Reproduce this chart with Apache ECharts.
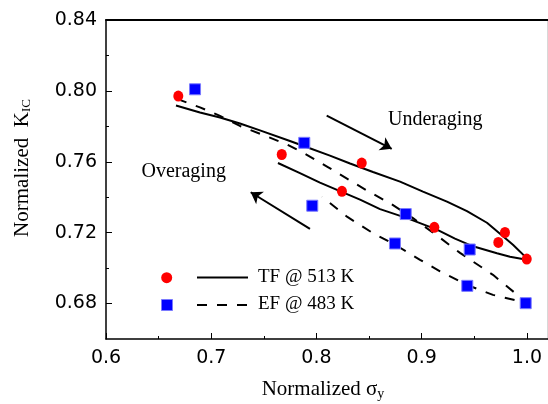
<!DOCTYPE html>
<html><head><meta charset="utf-8">
<script src="https://cdn.jsdelivr.net/npm/echarts@6/dist/echarts.min.js"></script>
<style>html,body{margin:0;padding:0;background:#fff}#c{width:548px;height:404px}</style>
</head><body><div id="c"></div>
<script>
// ---- axis ticks ----
const xTicks = [0.6, 0.7, 0.8, 0.9, 1.0];
const xMinorTicks = [0.65, 0.75, 0.85, 0.95];
const yTicks = [0.68, 0.72, 0.76, 0.80, 0.84];
const yMinorTicks = [0.70, 0.74, 0.78, 0.82];

// ---- measured points ----
const tfSigma = [0.6687, 0.7670, 0.8430, 0.8242, 0.9120, 0.9791, 0.9728, 0.9998];
const tfKic   = [0.7971, 0.7641, 0.7593, 0.7433, 0.7230, 0.7201, 0.7145, 0.7051];
const efSigma = [0.6846, 0.7884, 0.7960, 0.8848, 0.8746, 0.9456, 0.9433, 0.9988];
const efKic   = [0.8009, 0.7707, 0.7352, 0.7305, 0.7139, 0.7105, 0.6900, 0.6802];

// ---- TF @ 513 K loop (solid) ----
const tfCurveX = [0.6665, 0.6893, 0.7083, 0.7273, 0.7463, 0.7748, 0.7891, 0.8128, 0.8319, 0.8537, 0.8794, 0.9012, 0.9240, 0.9430, 0.9620, 0.9744, 0.9867, 1.0000,
                  0.9972, 0.9839, 0.9715, 0.9487, 0.9316, 0.9145, 0.8860, 0.8604, 0.8414, 0.8223, 0.8033, 0.7843, 0.7634];
const tfCurveY = [0.7918, 0.7878, 0.7850, 0.7816, 0.7777, 0.7717, 0.7686, 0.7635, 0.7590, 0.7542, 0.7488, 0.7432, 0.7375, 0.7321, 0.7256, 0.7194, 0.7132, 0.7055,
                  0.7050, 0.7064, 0.7084, 0.7123, 0.7166, 0.7217, 0.7282, 0.7333, 0.7386, 0.7434, 0.7482, 0.7536, 0.7593];

// ---- EF @ 483 K loop (dashed) ----
const efCurveX = [0.6675, 0.6893, 0.7083, 0.7273, 0.7530, 0.7720, 0.7872, 0.8100, 0.8290, 0.8490, 0.8699, 0.8917, 0.9174, 0.9364, 0.9677, 1.0000,
                  0.9677, 0.9430, 0.9174, 0.8984, 0.8746, 0.8537, 0.8290, 0.8052];
const efCurveY = [0.7955, 0.7907, 0.7859, 0.7802, 0.7743, 0.7697, 0.7652, 0.7573, 0.7505, 0.7434, 0.7366, 0.7282, 0.7171, 0.7086, 0.6962, 0.6804,
                  0.6849, 0.6905, 0.6982, 0.7047, 0.7132, 0.7197, 0.7290, 0.7403];

// ---- annotation arrows (data coords: from -> to) ----
const underArrow = [[0.8097, 0.7861], [0.8715, 0.7673]];
const overArrow  = [[0.7938, 0.7221], [0.7375, 0.7428]];

const zip = (a, b) => a.map((v, i) => [v, b[i]]);
const serif = 'Liberation Serif';

const chart = echarts.init(document.getElementById('c'), null, {renderer: 'canvas'});
const noSplit = {show: false};
const option = {
  backgroundColor: '#fff',
  animation: false,
  grid: {left: 106, right: 0, top: 20, bottom: 65, containLabel: false},
  xAxis: [
    {type: 'value', min: 0.6, max: 1.02, position: 'bottom',
     axisLine: {onZero: false, lineStyle: {color: '#000', width: 1.5}},
     axisTick: {inside: true, length: 6, customValues: xTicks, lineStyle: {color: '#000', width: 1}},
     axisLabel: {customValues: xTicks, formatter: v => v.toFixed(1), fontFamily: 'DejaVu Sans', fontSize: 19, color: '#000', margin: 10},
     splitLine: noSplit},
    {type: 'value', min: 0.6, max: 1.02, position: 'bottom',
     axisLine: {show: false},
     axisTick: {inside: true, length: 3, customValues: xMinorTicks, lineStyle: {color: '#000', width: 1}},
     axisLabel: {show: false}, splitLine: noSplit},
    {type: 'value', min: 0.6, max: 1.02, position: 'top',
     axisLine: {onZero: false, lineStyle: {color: '#000', width: 2}},
     axisTick: {show: false}, axisLabel: {show: false}, splitLine: noSplit}
  ],
  yAxis: [
    {type: 'value', min: 0.66, max: 0.84, position: 'left',
     axisLine: {onZero: false, lineStyle: {color: '#000', width: 1.5}},
     axisTick: {inside: true, length: 6, customValues: yTicks, lineStyle: {color: '#000', width: 1}},
     axisLabel: {customValues: yTicks, formatter: v => v.toFixed(2), fontFamily: 'DejaVu Sans', fontSize: 19, color: '#000', margin: 9},
     splitLine: noSplit},
    {type: 'value', min: 0.66, max: 0.84, position: 'left',
     axisLine: {show: false},
     axisTick: {inside: true, length: 3, customValues: yMinorTicks, lineStyle: {color: '#000', width: 1}},
     axisLabel: {show: false}, splitLine: noSplit},
    {type: 'value', min: 0.66, max: 0.84, position: 'right',
     axisLine: {onZero: false, lineStyle: {color: '#d8d8d8', width: 2}},
     axisTick: {show: false}, axisLabel: {show: false}, splitLine: noSplit}
  ],
  series: [
    {name: 'TF @ 513 K curve', type: 'line', data: zip(tfCurveX, tfCurveY), showSymbol: false, symbol: 'none', smooth: false,
     lineStyle: {color: '#000', width: 2}, silent: true, z: 2,
     markLine: {silent: true, symbol: ['none', 'arrow'], symbolSize: 11, label: {show: false},
       lineStyle: {color: '#000', width: 2, type: 'solid'},
       data: [
         [{coord: underArrow[0]}, {coord: underArrow[1]}],
         [{coord: overArrow[0]}, {coord: overArrow[1]}]
       ]}},
    {name: 'EF @ 483 K curve', type: 'line', data: zip(efCurveX, efCurveY), showSymbol: false, symbol: 'none', smooth: false,
     lineStyle: {color: '#000', width: 2, type: [10, 10]}, silent: true, z: 2},
    {name: 'TF @ 513 K', type: 'scatter', data: zip(tfSigma, tfKic), symbol: 'circle', symbolSize: [10, 11],
     itemStyle: {color: '#ff0000', opacity: 1}, z: 5},
    {name: 'EF @ 483 K', type: 'scatter', data: zip(efSigma, efKic), symbol: 'rect', symbolSize: 11,
     itemStyle: {color: '#0000ff', borderColor: '#7a7aff', borderWidth: 1, opacity: 1}, z: 5}
  ],
  graphic: [
    // axis titles
    {type: 'text', x: 323, y: 389, silent: true,
     style: {text: '{n|Normalized σ}{s|y}', align: 'center', verticalAlign: 'middle',
       rich: {n: {fontFamily: serif, fontSize: 21, fill: '#000'}, s: {fontFamily: serif, fontSize: 14, fill: '#000', padding: [10, 0, 0, 0]}}}},
    {type: 'text', x: 22, y: 168, rotation: Math.PI / 2, silent: true,
     style: {text: '{n|Normalized  K}{s|IC}', align: 'center', verticalAlign: 'middle',
       rich: {n: {fontFamily: serif, fontSize: 21, fill: '#000'}, s: {fontFamily: serif, fontSize: 13, fill: '#000', padding: [9, 0, 0, 0]}}}},
    // annotations
    {type: 'text', x: 388, y: 119.5, silent: true,
     style: {text: 'Underaging', fontFamily: serif, fontSize: 20, fill: '#000', align: 'left', verticalAlign: 'middle'}},
    {type: 'text', x: 141.5, y: 171.5, silent: true,
     style: {text: 'Overaging', fontFamily: serif, fontSize: 20, fill: '#000', align: 'left', verticalAlign: 'middle'}},
    // legend
    {type: 'circle', shape: {cx: 166.7, cy: 277.7, r: 5.5}, style: {fill: '#ff0000'}, silent: true},
    {type: 'line', shape: {x1: 197, y1: 277.5, x2: 248, y2: 277.5}, style: {stroke: '#000', lineWidth: 2}, silent: true},
    {type: 'text', x: 258, y: 277, silent: true,
     style: {text: 'TF @ 513 K', fontFamily: serif, fontSize: 19, fill: '#000', align: 'left', verticalAlign: 'middle'}},
    {type: 'rect', shape: {x: 161.5, y: 299.5, width: 11, height: 11}, style: {fill: '#0000ff', stroke: '#7a7aff', lineWidth: 1}, silent: true},
    {type: 'line', shape: {x1: 197, y1: 305, x2: 248, y2: 305}, style: {stroke: '#000', lineWidth: 2, lineDash: [10, 10]}, silent: true},
    {type: 'text', x: 258, y: 304, silent: true,
     style: {text: 'EF @ 483 K', fontFamily: serif, fontSize: 19, fill: '#000', align: 'left', verticalAlign: 'middle'}}
  ]
};
chart.setOption(option);
</script>
</body></html>
